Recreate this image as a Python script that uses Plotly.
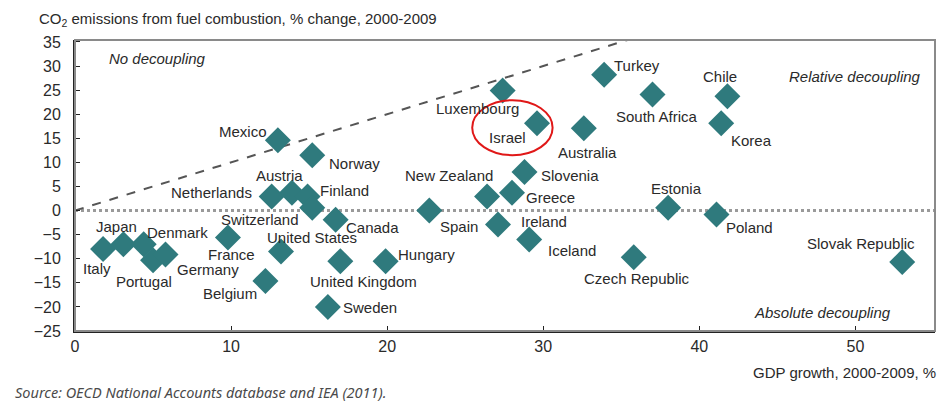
import plotly.graph_objects as go

countries = ["Mexico", "Norway", "Netherlands", "Austria", "Finland", "Switzerland",
             "Japan", "Italy", "Denmark", "Portugal", "Germany", "France",
             "United States", "Belgium", "Canada", "United Kingdom", "Hungary", "Sweden",
             "Spain", "New Zealand", "Luxembourg", "Israel", "Australia", "Turkey",
             "South Africa", "Chile", "Korea", "Slovenia", "Greece", "Estonia",
             "Poland", "Ireland", "Iceland", "Czech Republic", "Slovak Republic"]
gdp_growth = [13.0, 15.2, 12.6, 13.9, 14.9, 15.2,
              3.1, 1.8, 4.4, 5.0, 5.8, 9.8,
              13.2, 12.2, 16.7, 17.0, 19.9, 16.2,
              22.7, 26.4, 27.4, 29.6, 32.6, 33.9,
              37.0, 41.8, 41.4, 28.8, 28.0, 38.0,
              41.1, 27.1, 29.1, 35.8, 53.0]
co2_change = [14.6, 11.5, 2.9, 3.7, 2.9, 0.6,
              -7.0, -8.0, -7.0, -10.3, -9.1, -5.6,
              -8.5, -14.6, -1.9, -10.5, -10.5, -20.0,
              0.0, 2.9, 24.9, 18.1, 17.1, 28.2,
              24.1, 23.7, 18.1, 8.0, 3.7, 0.6,
              -0.8, -2.9, -6.0, -9.7, -10.7]

# label offsets in pixels (style): dx right, dy down
label_dx = [-35, 42, -60, -12, 37, -52,
            -7, -6, 34, -9, 42, 4,
            31, -35, 37, 23, 41, 42,
            30, -38, -25, -30, 4, 33,
            4, -7, 30, 45, 38, 8,
            33, 46, 43, 3, -41]
label_dy = [-9, 8, -4, -17, -6, 12,
            -18, 19, -12, 21, 15, 17,
            -14, 13, 8, 20, -7, 1,
            16, -21, 18, 14, 24, -9,
            22, -20, 17, 3, 5, -19,
            13, -3, 11, 21, -19]

FONT = "Liberation Sans, Arial, sans-serif"
TXT = "#2a2a2a"
TEAL = "#2f7a7d"
FS = 15

fig = go.Figure()
fig.add_trace(go.Scatter(
    x=gdp_growth, y=co2_change, mode="markers",
    marker=dict(symbol="diamond", size=20, color=TEAL, line=dict(width=0)),
    hoverinfo="text", text=countries, showlegend=False,
))

annotations = []
for c, x, y, dx, dy in zip(countries, gdp_growth, co2_change, label_dx, label_dy):
    annotations.append(dict(x=x, y=y, xref="x", yref="y", text=c, showarrow=False,
                            xshift=dx, yshift=-dy,
                            font=dict(family=FONT, size=FS, color=TXT)))

annotations += [
    dict(x=0.037, y=0.938, xref="paper", yref="paper", text="<i>No decoupling</i>",
         showarrow=False, xanchor="left", yanchor="middle",
         font=dict(family=FONT, size=FS, color=TXT)),
    dict(x=0.986, y=0.876, xref="paper", yref="paper", text="<i>Relative decoupling</i>",
         showarrow=False, xanchor="right", yanchor="middle",
         font=dict(family=FONT, size=FS, color=TXT)),
    dict(x=0.951, y=0.065, xref="paper", yref="paper", text="<i>Absolute decoupling</i>",
         showarrow=False, xanchor="right", yanchor="middle",
         font=dict(family=FONT, size=FS, color=TXT)),
    dict(x=-0.044, y=1.069, xref="paper", yref="paper",
         text="CO<sub>2</sub> emissions from fuel combustion, % change, 2000-2009",
         showarrow=False, xanchor="left", yanchor="middle",
         font=dict(family=FONT, size=FS, color=TXT)),
    dict(x=1.003, y=-0.141, xref="paper", yref="paper", text="GDP growth, 2000-2009, %",
         showarrow=False, xanchor="right", yanchor="middle",
         font=dict(family=FONT, size=FS, color=TXT)),
    dict(x=-0.072, y=-0.251, xref="paper", yref="paper",
         text="<i>Source: OECD National Accounts database and IEA (2011).</i>",
         showarrow=False, xanchor="left", yanchor="bottom",
         font=dict(family="Noto Sans, sans-serif", size=14.5, color="#4a4a4a")),
]

shapes = [
    dict(type="line", xref="x", yref="y", x0=0, y0=0, x1=55.1, y1=0,
         line=dict(color="#9a9a9a", width=3, dash="dot"), layer="below"),
    dict(type="line", xref="x", yref="y", x0=0, y0=0, x1=35.4, y1=35.4,
         line=dict(color="#555555", width=2, dash="dash"), layer="below"),
    dict(type="circle", xref="x", yref="y", x0=25.45, x1=30.6, y0=11.5, y1=22.9,
         line=dict(color="#e01818", width=2)),
    dict(type="rect", xref="paper", yref="paper", x0=0, y0=0, x1=1, y1=1,
         line=dict(color="#8a8a8a", width=2)),
]

# page body has an 8px margin: figure sized so the page is 947x412 overall
fig.update_layout(
    width=931, height=396,
    margin=dict(l=67, r=4, t=32, b=73),
    paper_bgcolor="white", plot_bgcolor="white",
    annotations=annotations, shapes=shapes,
    font=dict(family=FONT, size=FS, color=TXT),
    xaxis=dict(range=[0, 55.1], tickvals=[0, 10, 20, 30, 40, 50],
               showgrid=False, zeroline=False, showline=True, linecolor="#222",
               linewidth=2, ticks="inside", ticklen=5, tickcolor="#222",
               tickfont=dict(family=FONT, size=16, color=TXT)),
    yaxis=dict(range=[-25, 35.4], tickvals=list(range(-25, 36, 5)),
               showgrid=False, zeroline=False, showline=True, linecolor="#222",
               linewidth=2, ticks="inside", ticklen=5, tickcolor="#222",
               ticklabelstandoff=9,
               tickfont=dict(family=FONT, size=16, color=TXT)),
)

fig.write_html("out.html")
